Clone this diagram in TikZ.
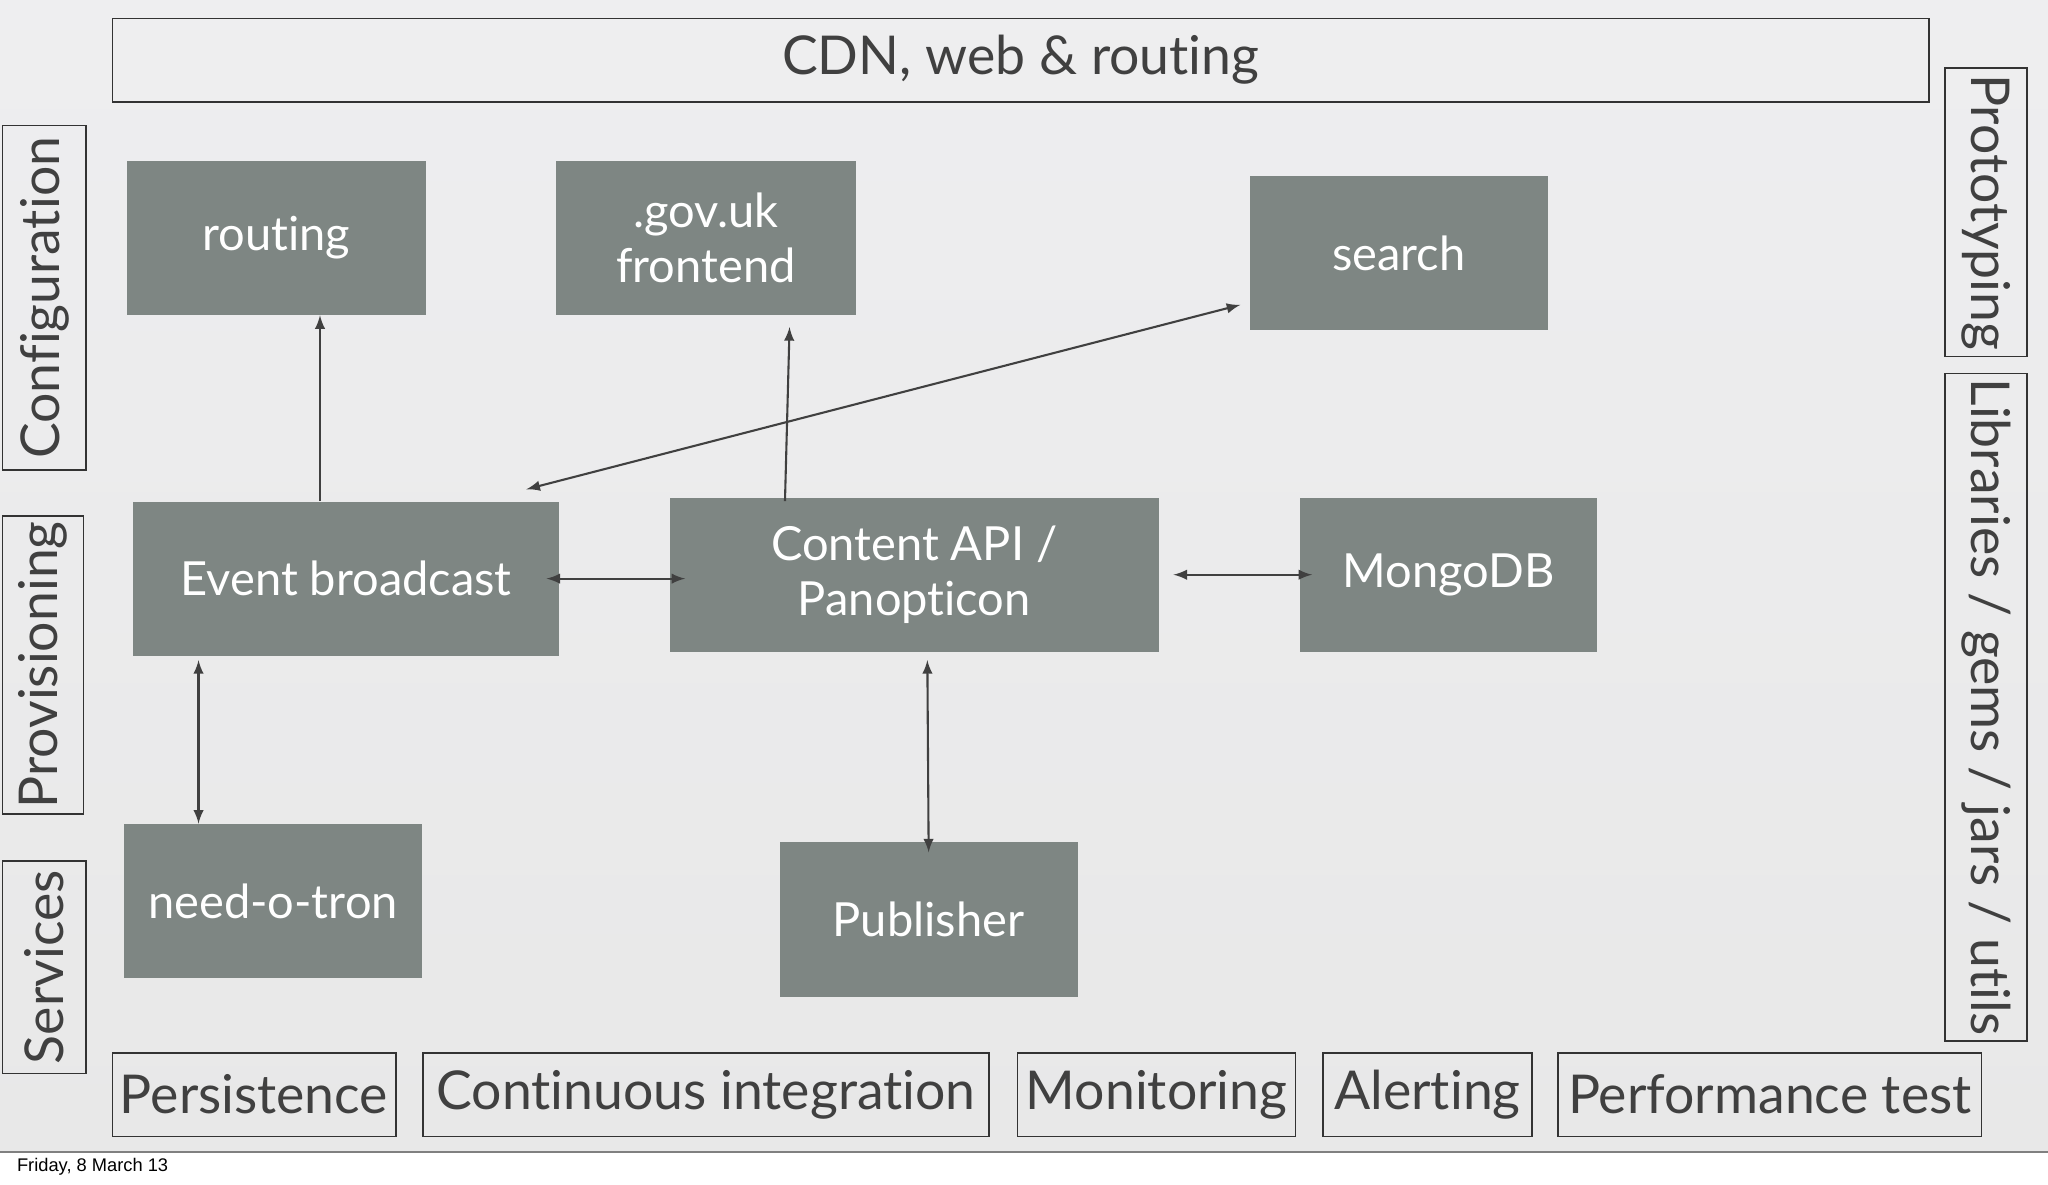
\documentclass[tikz,border=0pt]{standalone}
\usepackage{fontspec}
\setmainfont{Lato}[Ligatures=CommonOff]
\newfontfamily\footfont{Liberation Sans}
\begin{document}
\begin{tikzpicture}[x=0.5pt,y=-0.5pt,
  blk/.style={fill=boxgray,draw=none,text=white,font=\fontsize{18}{21}\selectfont,align=center,inner sep=0},
  frm/.style={draw=black!80,line width=0.6pt,fill=none,inner sep=0,text=black!75,font=\fontsize{20.5}{24}\selectfont},
  arr/.style={draw=black!75,line width=0.8pt,-latex},
  darr/.style={arr,latex-latex}]
\definecolor{boxgray}{HTML}{7E8683}
\useasboundingbox (0,0) rectangle (1568,906.5);
\shade[top color=white!92!blue!40!gray!20, bottom color=gray!18] (0,0) rectangle (1568,882);
\fill[white] (0,882) rectangle (1568,906.5);
\draw[black!50,line width=0.5pt] (0,882) -- (1568,882);
\node[anchor=west,font=\footfont\fontsize{7}{8}\selectfont] (date) at (6,893) {Friday, 8 March 13};

% frame labels
\node[frm,minimum width=695.5pt,minimum height=32pt] (cdn) at (781.5,46) {CDN, web \& routing};
\node[frm,rotate=90,minimum width=132pt,minimum height=32pt] (conf) at (34,228) {Configuration};
\node[frm,rotate=90,minimum width=114pt,minimum height=31pt] (prov) at (33,509) {Provisioning};
\node[frm,rotate=90,minimum width=81.5pt,minimum height=32pt] (serv) at (34,740.5) {Services};
\node[frm,rotate=-90,minimum width=110.5pt,minimum height=31.5pt] (proto) at (1520.5,162.5) {Prototyping};
\node[frm,rotate=-90,minimum width=255.5pt,minimum height=31.5pt] (libs) at (1520.5,541.5) {Libraries / gems / jars / utils};
\begin{scope}[every node/.style={frm,minimum height=32pt,font=\fontsize{20.5}{24}\selectfont}]
\node[minimum width=108.5pt] (pers) at (194.5,838) {Persistence};
\node[minimum width=216.5pt] (ci) at (540.5,838) {Continuous integration};
\node[minimum width=106.5pt] (mon) at (885.5,838) {Monitoring};
\node[minimum width=80pt] (alert) at (1093,838) {Alerting};
\node[minimum width=162pt] (perf) at (1355,838) {Performance test};
\end{scope}

% components
\node[blk,minimum width=114.5pt,minimum height=59pt] (routing) at (211.5,182) {routing};
\node[blk,minimum width=114.5pt,minimum height=59pt] (govuk) at (540.5,182) {.gov.uk\\frontend};
\node[blk,minimum width=114pt,minimum height=59pt] (search) at (1071,194) {search};
\node[blk,minimum width=163pt,minimum height=59pt] (eb) at (265,443) {Event broadcast};
\node[blk,minimum width=187pt,minimum height=59pt] (capi) at (700,440) {Content API /\\Panopticon};
\node[blk,minimum width=114pt,minimum height=59pt] (mongo) at (1109,440) {MongoDB};
\node[blk,minimum width=114pt,minimum height=59pt] (need) at (209,690) {need-o-tron};
\node[blk,minimum width=114pt,minimum height=59pt] (pub) at (711,704) {Publisher};

% connectors
\coordinate (ebtop) at ([xshift=-10pt]eb.north);
\draw[arr] (ebtop) -- (routing.south -| ebtop);
\draw[arr] ([xshift=-49.5pt,yshift=-1.5pt]capi.north) -- ([xshift=32pt,yshift=-4.5pt]govuk.south);
\draw[darr] ([xshift=69pt,yshift=4.5pt]eb.north) -- ([xshift=-3.5pt,yshift=10pt]search.south west);
\draw[darr] ([xshift=-5pt]eb.east) -- ([xshift=6pt,yshift=-1.5pt]capi.west);
\draw[darr] ([xshift=5.5pt]capi.east) -- ([xshift=5pt]mongo.west);
\draw[darr] ([xshift=-56.5pt,yshift=-1.5pt]eb.south) -- ([xshift=-28.5pt]need.north);
\draw[darr] ([xshift=5pt,yshift=-3pt]capi.south) -- ([yshift=-4pt]pub.north);
\end{tikzpicture}
\end{document}
